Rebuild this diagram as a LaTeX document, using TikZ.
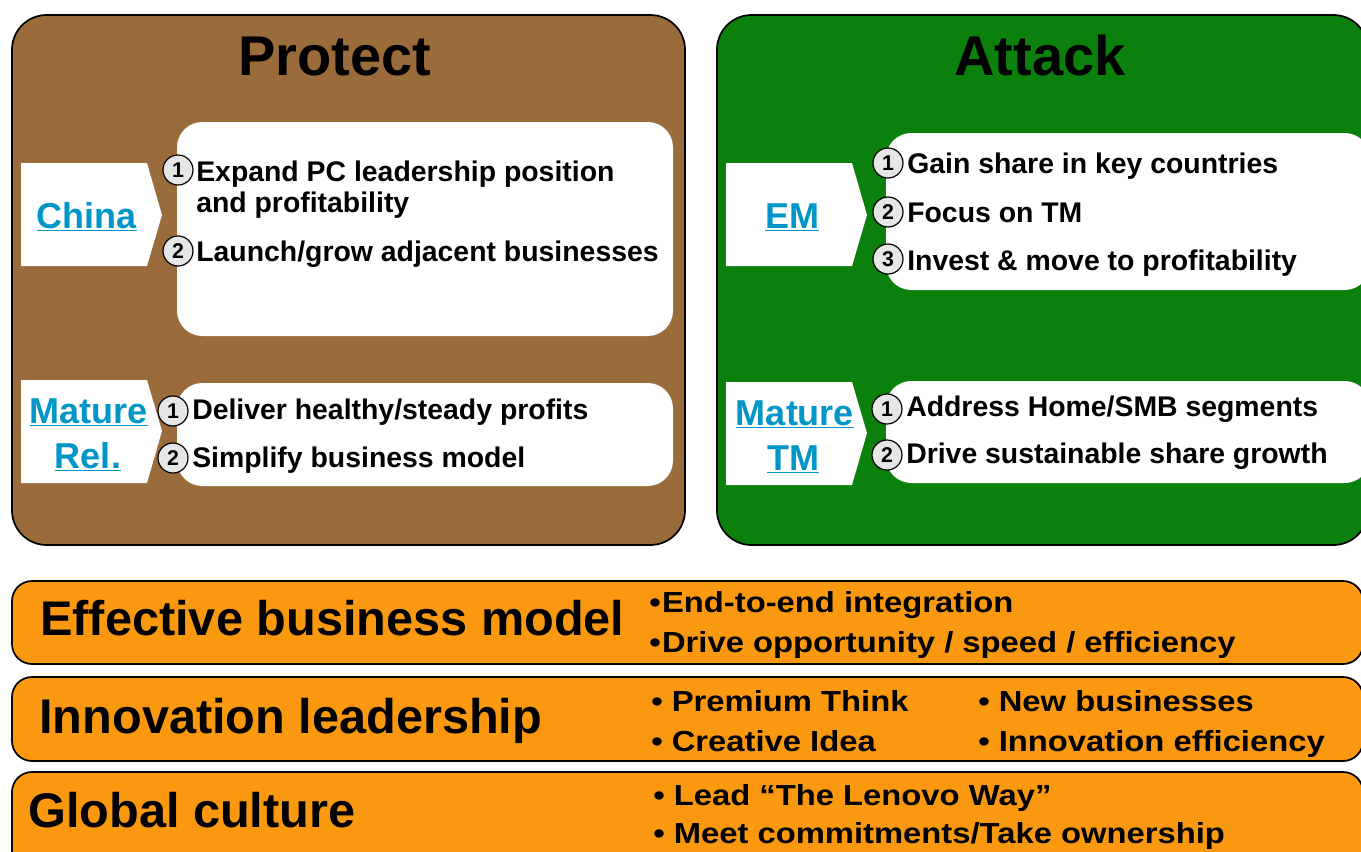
\documentclass[tikz,border=0pt]{standalone}
\usepackage{fontspec}
\setmainfont{Liberation Sans}
\newfontfamily\widefont[FakeStretch=1.13]{Liberation Sans}

\definecolor{protectbrown}{RGB}{155,108,59}
\definecolor{attackgreen}{RGB}{11,128,13}
\definecolor{barorange}{RGB}{250,153,15}
\definecolor{linkblue}{RGB}{0,150,200}
\definecolor{numgray}{RGB}{230,230,230}

\begin{document}
\begin{tikzpicture}[x=0.75pt, y=-0.75pt,
            panel/.style={draw=black, line width=1.3pt, rounded corners=26pt},
            card/.style={fill=white, rounded corners=19pt},
            tag/.style={fill=white},
            bar/.style={draw=black, line width=1.3pt, fill=barorange, rounded corners=15pt},
            title/.style={font=\fontsize{42}{48}\selectfont\bfseries, anchor=base, inner sep=0pt},
            region/.style={font=\fontsize{27}{32}\selectfont\bfseries, text=linkblue, anchor=base, inner sep=0pt},
            num/.style={circle, draw=black, line width=0.9pt, fill=numgray, inner sep=0pt, minimum size=22.5pt, font=\fontsize{16}{16}\selectfont\bfseries},
            item/.style={font=\fontsize{21.3}{26}\selectfont\bfseries, anchor=base west, inner sep=0pt},
            pillar/.style={font=\fontsize{36.5}{42}\selectfont\bfseries, anchor=base west, inner sep=0pt},
            point/.style={font=\widefont\fontsize{21.75}{26}\selectfont\bfseries, anchor=base west, inner sep=0pt}]
            \useasboundingbox (0,0) rectangle (1361,851);
            \clip (0,0) rectangle (1361,851);

            % two panels
            \draw [panel, fill=protectbrown] (12,15) rectangle (685,545);
            \draw [panel, fill=attackgreen] (717,15) rectangle (1368,545);
            \node (protect) [title] at (335,75) {Protect};
            \node (attack) [title] at (1040,75) {Attack};

            % white cards
            \fill [card] (177,122) rectangle (673,336);
            \fill [card] (177,383) rectangle (673,486);
            \fill [card] (886,133) rectangle (1370,290);
            \fill [card] (886,381) rectangle (1370,483);

            % arrow tags
            \fill [tag] (21,163) -- (147,163) -- (162,215) -- (147,266) -- (21,266) -- cycle;
            \fill [tag] (21,380) -- (147,380) -- (162,431) -- (147,483) -- (21,483) -- cycle;
            \fill [tag] (726,163) -- (852,163) -- (867,215) -- (852,266) -- (726,266) -- cycle;
            \fill [tag] (726,382) -- (852,382) -- (867,433) -- (852,485) -- (726,485) -- cycle;
            \node (china) [region] at (87,228) {\underline{China}};
            \node (rel1) [region] at (89,423) {\underline{Mature}};
            \node (rel2) [region] at (88,468) {\underline{Rel.}};
            \node (em) [region] at (792,228) {\underline{EM}};
            \node (tm1) [region] at (795,425) {\underline{Mature}};
            \node (tm2) [region] at (793,470) {\underline{TM}};

            % protect items
            \node (cn1) [num] at (178,170) {1};
            \node (cn2) [num] at (178,251) {2};
            \node [item] at (196,181) {Expand PC leadership position};
            \node [item] at (196,212) {and profitability};
            \node [item] at (196,261) {Launch/grow adjacent businesses};
            \node (rl1) [num] at (173,411) {1};
            \node (rl2) [num] at (173,458) {2};
            \node [item] at (192,419) {Deliver healthy/steady profits};
            \node [item] at (192,467) {Simplify business model};

            % attack items
            \node (em1) [num] at (888,163) {1};
            \node (em2) [num] at (888,212) {2};
            \node (em3) [num] at (888,259) {3};
            \node [item] at (907,173) {Gain share in key countries};
            \node [item] at (907,222) {Focus on TM};
            \node [item] at (907,270) {Invest \& move to profitability};
            \node (tm1n) [num] at (887,409) {1};
            \node (tm2n) [num] at (887,455) {2};
            \node [item] at (906,416) {Address Home/SMB segments};
            \node [item] at (906,463) {Drive sustainable share growth};

            % foundation bars
            \draw [bar] (12,581) rectangle (1363,664);
            \draw [bar] (12,677) rectangle (1363,761);
            \draw [bar] (12,772) rectangle (1363,880);
            \node (model) [pillar] at (40,635) {Effective business model};
            \node (innov) [pillar] at (39,733) {Innovation leadership};
            \node (culture) [pillar] at (28,827) {Global culture};
            \node [point] at (649,612) {•\kern1pt End-to-end integration};
            \node [point] at (649,652) {•\kern1pt Drive opportunity / speed / efficiency};
            \node [point] at (651,711) {• Premium Think};
            \node [point] at (651,751) {• Creative Idea};
            \node [point] at (978,711) {• New businesses};
            \node [point] at (978,751) {• Innovation efficiency};
            \node [point] at (653,805) {• Lead “The Lenovo Way”};
            \node [point] at (653,843) {• Meet commitments/Take ownership};
        \end{tikzpicture}
\end{document}
